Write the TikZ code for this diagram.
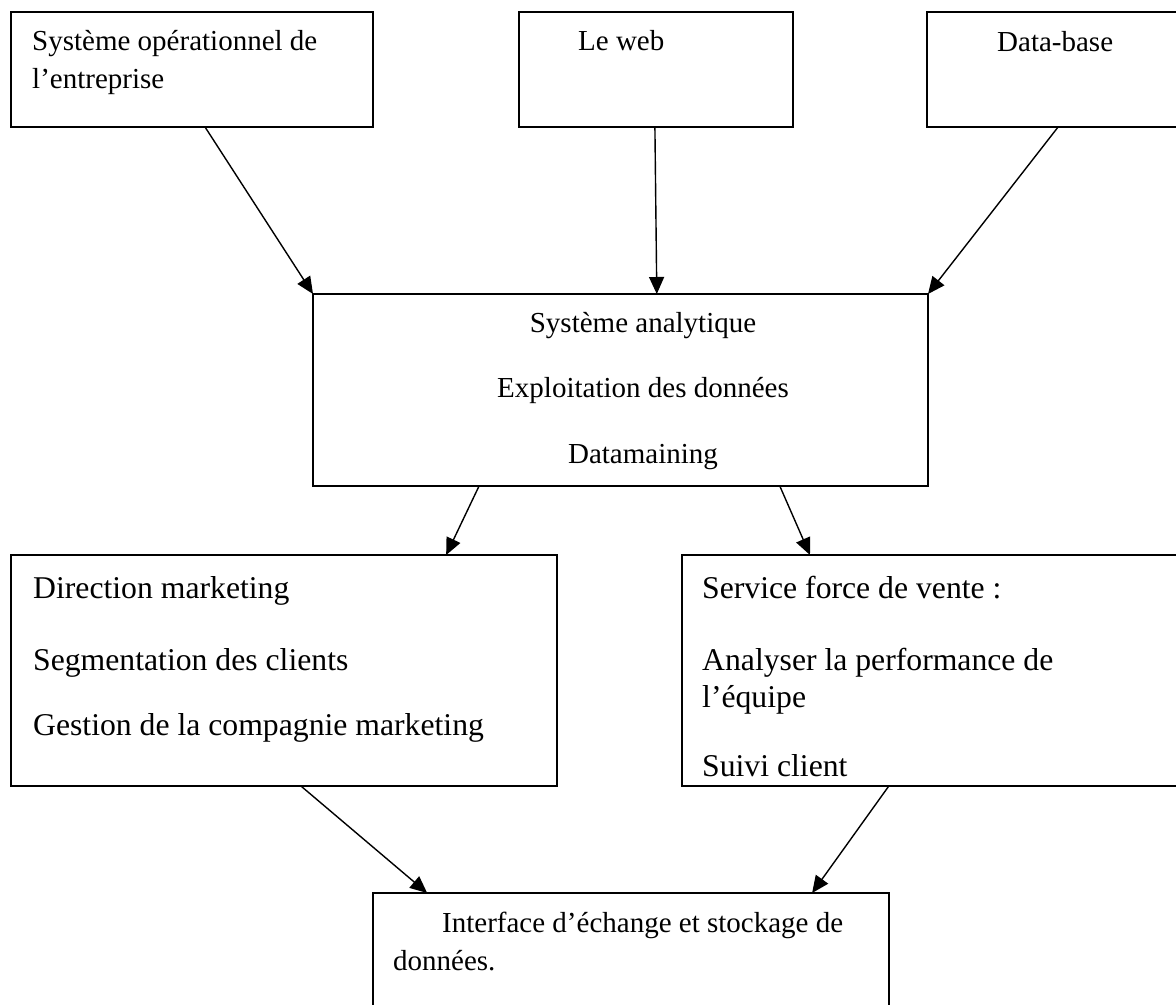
\documentclass[tikz,border=0pt]{standalone}
\usepackage{fontspec}
\setmainfont{Liberation Serif}
\usetikzlibrary{arrows.meta,calc}

\begin{document}
\begin{tikzpicture}[x=1bp,y=-1bp,
  box/.style={draw, line width=1.8bp, anchor=north west, inner sep=0pt, outer sep=0pt},
  link/.style={line width=1.4bp, -{Triangle[length=17bp,width=15bp]}},
  txt/.style={anchor=base west, inner sep=0pt, font=\fontsize{29bp}{34bp}\selectfont},
  ctxt/.style={anchor=base, inner sep=0pt, font=\fontsize{29bp}{34bp}\selectfont},
  bigtxt/.style={anchor=base west, inner sep=0pt, font=\fontsize{31.7bp}{37bp}\selectfont}]
\useasboundingbox (0,0) rectangle (1176,1005);
\clip (0,0) rectangle (1176,1005);

% frames
\node[box, minimum width=362bp, minimum height=115bp] (ops)   at (11,12)   {};
\node[box, minimum width=274bp, minimum height=115bp] (web)   at (519,12)  {};
\node[box, minimum width=300bp, minimum height=115bp] (db)    at (927,12)  {};
\node[box, minimum width=615bp, minimum height=192bp] (ana)   at (313,294) {};
\node[box, minimum width=546bp, minimum height=231bp] (mkt)   at (11,555)  {};
\node[box, minimum width=540bp, minimum height=231bp] (sales) at (682,555) {};
\node[box, minimum width=516bp, minimum height=150bp] (iface) at (373,893) {};

% texts
\node[txt] (ops1) at (32,50) {Système opérationnel de};
\node[txt] (ops2) at (32,88) {l’entreprise};
\node[txt] (web1) at (578,50) {Le web};
\node[txt] (db1)  at (997,51) {Data-base};

\node[ctxt] (ana1) at (643,332) {Système analytique};
\node[ctxt] (ana2) at (643,397) {Exploitation des données};
\node[ctxt] (ana3) at (643,463) {Datamaining};

\node[bigtxt] (mkt1) at (33,598) {Direction marketing};
\node[bigtxt] (mkt2) at (33,670) {Segmentation des clients};
\node[bigtxt] (mkt3) at (33,735) {Gestion de la compagnie marketing};

\node[bigtxt] (sal1) at (702,598) {Service force de vente :};
\node[bigtxt] (sal2) at (702,670) {Analyser la performance de};
\node[bigtxt] (sal3) at (702,707) {l’équipe};
\node[bigtxt] (sal4) at (702,776) {Suivi client};

\node[txt] (ifc1) at (442,932) {Interface d’échange et stockage de};
\node[txt] (ifc2) at (393,970) {données.};

% connectors
\draw[link] ($(ops.south west)!0.536!(ops.south east)$) -- (ana.north west);
\draw[link] ($(web.south west)!0.496!(web.south east)$) -- ($(ana.north west)!0.559!(ana.north east)$);
\draw[link] ($(db.south west)!0.437!(db.south east)$) -- (ana.north east);
\draw[link] ($(ana.south west)!0.270!(ana.south east)$) -- ($(mkt.north west)!0.797!(mkt.north east)$);
\draw[link] ($(ana.south west)!0.759!(ana.south east)$) -- ($(sales.north west)!0.237!(sales.north east)$);
\draw[link] ($(mkt.south west)!0.531!(mkt.south east)$) -- ($(iface.north west)!0.105!(iface.north east)$);
\draw[link] ($(sales.south west)!0.383!(sales.south east)$) -- ($(iface.north west)!0.851!(iface.north east)$);
\end{tikzpicture}
\end{document}
